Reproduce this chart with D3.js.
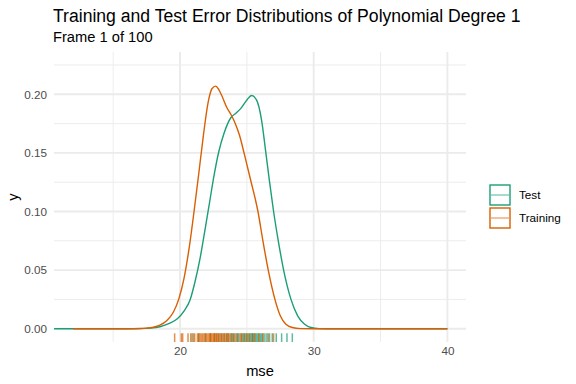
<!DOCTYPE html>
<html>
<head>
    <title>Error distributions</title>
    <script src="https://d3js.org/d3.v7.min.js"></script>
    <style>
        body { margin: 0; background: #fff; }
        svg { display: block; font-family: "Liberation Sans", Arial, sans-serif; }
    </style>
</head>
<body>
    <svg id="chart"></svg>
    <script>
        // density curves
        const testX  = [10.58, 16.0, 17.0, 17.8, 18.5, 19.2, 19.8, 20.3, 20.75, 21.1, 21.5, 21.85, 22.2, 22.55, 22.9, 23.3, 23.8, 24.2, 24.55, 24.99, 25.36, 25.73, 26.1, 26.4, 26.7, 27.0, 27.35, 27.75, 28.3, 28.8, 29.3, 29.8, 30.4, 31.0, 40.0];
        const testY  = [0, 0, 0.0001, 0.0005, 0.0017, 0.0045, 0.0085, 0.015, 0.0245, 0.039, 0.060, 0.083, 0.107, 0.131, 0.151, 0.167, 0.180, 0.184, 0.188, 0.195, 0.199, 0.195, 0.178, 0.152, 0.125, 0.100, 0.075, 0.05, 0.025, 0.011, 0.004, 0.001, 0.0001, 0, 0];
        const trainX = [12.0, 16.0, 17.0, 17.5, 18.0, 18.5, 19.0, 19.5, 19.9, 20.3, 20.7, 21.05, 21.4, 21.75, 22.1, 22.4, 22.67, 22.9, 23.12, 23.49, 23.8, 24.1, 24.45, 24.79, 25.3, 25.83, 26.2, 26.6, 27.1, 27.5, 27.9, 28.4, 29.0, 30.0, 40.0];
        const trainY = [0, 0, 0.0002, 0.0005, 0.0012, 0.003, 0.0068, 0.014, 0.025, 0.043, 0.070, 0.100, 0.132, 0.165, 0.193, 0.205, 0.207, 0.204, 0.199, 0.189, 0.183, 0.176, 0.165, 0.150, 0.126, 0.100, 0.075, 0.05, 0.025, 0.011, 0.004, 0.001, 0.0001, 0, 0];

        // rug: individual mse values
        const testRug  = [20.9, 21.4, 21.9, 22.3, 22.6, 22.9, 23.1, 23.3, 23.5, 23.6, 23.8, 23.9, 24.0, 24.2, 24.3, 24.4, 24.6, 24.7, 24.8, 24.9, 25.0, 25.1, 25.2, 25.3, 25.4, 25.45, 25.5, 25.6, 25.7, 25.8, 25.9, 26.0, 26.1, 26.2, 26.35, 26.5, 26.7, 26.9, 27.2, 27.6, 28.0, 28.4];
        const trainRug = [19.6, 20.1, 20.2, 20.6, 20.8, 21.0, 21.1, 21.3, 21.4, 21.5, 21.6, 21.7, 21.8, 21.9, 22.0, 22.1, 22.2, 22.25, 22.3, 22.4, 22.5, 22.55, 22.6, 22.7, 22.75, 22.8, 22.9, 23.0, 23.1, 23.2, 23.3, 23.4, 23.5, 23.6, 23.7, 23.85, 24.0, 24.1, 24.3, 24.5, 24.6, 24.8, 25.0, 25.2, 25.4, 25.6, 25.9, 26.2, 26.6, 27.0];

        const xTicks = [20, 30, 40];
        const xMinor = [15, 25, 35];
        const yTicks = [0, 0.05, 0.10, 0.15, 0.20];
        const yMinor = [0.025, 0.075, 0.125, 0.175, 0.225];
        const groups = ["Test", "Training"];
        const colors = ["#1b9e77", "#d95f02"];

        const width = 576;
        const height = 384;
        const panel = { left: 54, right: 466, top: 52, bottom: 342 };

        const svg = d3.select("#chart")
            .attr("width", width)
            .attr("height", height);

        const x = d3.scaleLinear().domain([10.576, 41.39]).range([panel.left, panel.right]);
        const y = d3.scaleLinear().domain([-0.01135, 0.2361]).range([panel.bottom, panel.top]);

        // grid
        const grid = svg.append("g");
        grid.selectAll(".vminor").data(xMinor).enter().append("line")
            .attr("x1", d => x(d)).attr("x2", d => x(d))
            .attr("y1", panel.top).attr("y2", panel.bottom)
            .style("stroke", "#ebebeb").style("stroke-width", 0.95);
        grid.selectAll(".hminor").data(yMinor).enter().append("line")
            .attr("x1", panel.left).attr("x2", panel.right)
            .attr("y1", d => y(d)).attr("y2", d => y(d))
            .style("stroke", "#ebebeb").style("stroke-width", 0.95);
        grid.selectAll(".vmajor").data(xTicks).enter().append("line")
            .attr("x1", d => x(d)).attr("x2", d => x(d))
            .attr("y1", panel.top).attr("y2", panel.bottom)
            .style("stroke", "#ebebeb").style("stroke-width", 1.9);
        grid.selectAll(".hmajor").data(yTicks).enter().append("line")
            .attr("x1", panel.left).attr("x2", panel.right)
            .attr("y1", d => y(d)).attr("y2", d => y(d))
            .style("stroke", "#ebebeb").style("stroke-width", 1.9);

        // axes (ggplot minimal: no lines, no ticks)
        const xAxis = svg.append("g")
            .attr("transform", `translate(0,${panel.bottom})`)
            .call(d3.axisBottom(x).tickValues(xTicks).tickSize(0).tickPadding(5));
        const yAxis = svg.append("g")
            .attr("transform", `translate(${panel.left},0)`)
            .call(d3.axisLeft(y).tickValues(yTicks).tickSize(0).tickPadding(7).tickFormat(d3.format(".2f")));
        [xAxis, yAxis].forEach(a => {
            a.select(".domain").remove();
            a.selectAll("text")
                .style("font-family", "'Liberation Sans', Arial, sans-serif")
                .style("font-size", "11.7px")
                .style("fill", "#4d4d4d");
        });

        // density curves
        const line = d3.line().x(d => x(d[0])).y(d => y(d[1])).curve(d3.curveMonotoneX);
        const testPts = testX.map((v, i) => [v, testY[i]]);
        const trainPts = trainX.map((v, i) => [v, trainY[i]]);

        svg.append("path").datum(testPts)
            .attr("d", line)
            .style("fill", "none").style("stroke", colors[0]).style("stroke-width", 1.4);
        svg.append("path").datum(trainPts)
            .attr("d", line)
            .style("fill", "none").style("stroke", colors[1]).style("stroke-width", 1.4);

        // rug along the bottom of the panel
        const rugLen = (panel.bottom - panel.top) * 0.03;
        [[testRug, colors[0]], [trainRug, colors[1]]].forEach(([vals, col]) => {
            svg.append("g").selectAll("line").data(vals).enter().append("line")
                .attr("x1", d => x(d)).attr("x2", d => x(d))
                .attr("y1", panel.bottom).attr("y2", panel.bottom - rugLen)
                .style("stroke", col).style("stroke-width", 1.5).style("stroke-opacity", 0.7);
        });

        // titles
        svg.append("text").attr("x", 53).attr("y", 22)
            .style("font-size", "17.6px").style("fill", "#000")
            .text("Training and Test Error Distributions of Polynomial Degree 1");
        svg.append("text").attr("x", 53).attr("y", 42)
            .style("font-size", "14.7px").style("fill", "#000")
            .text("Frame 1 of 100");
        svg.append("text").attr("x", (panel.left + panel.right) / 2).attr("y", 376)
            .attr("text-anchor", "middle")
            .style("font-size", "14.7px").style("fill", "#000")
            .text("mse");
        svg.append("text")
            .attr("transform", `translate(18,${(panel.top + panel.bottom) / 2}) rotate(-90)`)
            .attr("text-anchor", "middle")
            .style("font-size", "14.7px").style("fill", "#000")
            .text("y");

        // legend
        const legend = svg.append("g").attr("transform", "translate(490,185)");
        const keys = legend.selectAll(".key").data(groups).enter().append("g")
            .attr("transform", (d, i) => `translate(0,${i * 23})`);
        keys.append("rect")
            .attr("width", 20).attr("height", 20)
            .style("fill", "none")
            .style("stroke", (d, i) => colors[i]).style("stroke-width", 1.4);
        keys.append("line")
            .attr("x1", 1).attr("x2", 19).attr("y1", 10).attr("y2", 10)
            .style("stroke", (d, i) => colors[i]).style("stroke-width", 1.4).style("stroke-opacity", 0.55);
        keys.append("text")
            .attr("x", 29).attr("y", 10).attr("dy", "0.35em")
            .style("font-size", "11.7px").style("fill", "#000")
            .text(d => d);
    </script>
</body>
</html>
